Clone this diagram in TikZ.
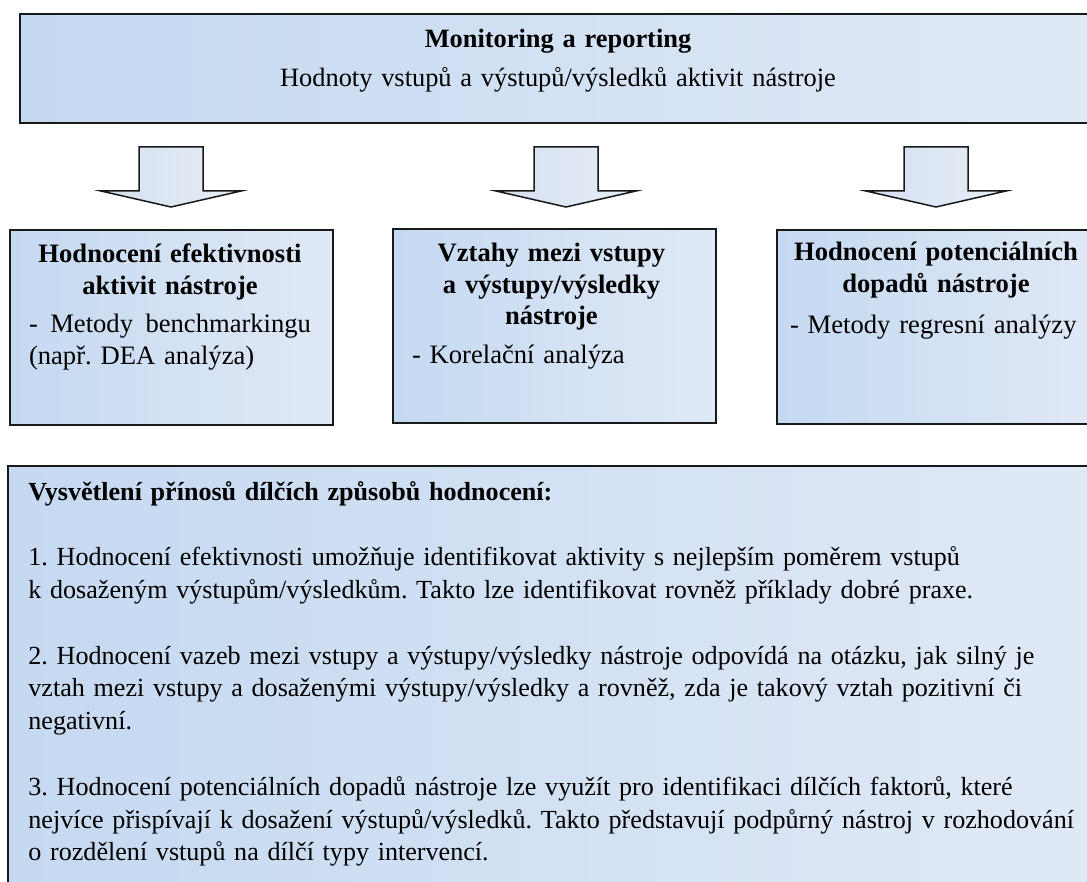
\documentclass[tikz,border=0pt]{standalone}
\usepackage{fontspec}
\setmainfont{Liberation Serif}
\frenchspacing
\usetikzlibrary{positioning}
\definecolor{boxleft}{RGB}{197,217,241}
\definecolor{boxright}{RGB}{224,233,246}
\definecolor{arrowleft}{RGB}{212,223,239}
\definecolor{arrowright}{RGB}{231,238,247}

\begin{document}
\begin{tikzpicture}[x=0.5pt, y=-0.5pt,
    panel/.style={draw=black!90, line width=1pt, left color=boxleft, right color=boxright,
        inner sep=0pt, anchor=north west},
    txt/.style={font=\fontsize{13.3}{15.75}\selectfont, inner sep=0pt, anchor=base},
    blockarrow/.pic={
        \draw[draw=black!90, line width=0.75pt, left color=arrowleft, right color=arrowright]
            (-32,0) -- (32,0) -- (32,44) -- (70,44) -- (0,60) -- (-70,44) -- (-32,44) -- cycle;
    }]
    \useasboundingbox (0,0) rectangle (1087,882);
    \clip (0,0) rectangle (1087,882);

    \node[panel, minimum width=540.5pt, minimum height=54.5pt] (top) at (19,13) {};
    \node[panel, minimum width=161.5pt, minimum height=97.5pt] (eff) at (9,229) {};
    \node[panel, minimum width=161.5pt, minimum height=97pt] (rel) at (392,228) {};
    \node[panel, minimum width=162pt, minimum height=97pt] (imp) at (776,229) {};
    \node[panel, minimum width=546.5pt, minimum height=217.5pt] (note) at (7,465) {};

    \pic at (171,147) {blockarrow};
    \pic at (566,147) {blockarrow};
    \pic at (936,147) {blockarrow};

    \node[txt, text width=530pt, align=center, font=\fontsize{13.2}{16}\selectfont] (top-text) at (558,48)
        {\textbf{Monitoring a reporting}\\[3.5pt] Hodnoty vstupů a výstupů/výsledků aktivit nástroje};

    \node[txt, text width=141pt] (eff-text) at (170,263)
        {{\centering\bfseries Hodnocení efektivnosti\\ aktivit nástroje\par}\vspace{3.5pt}
        -\hfill Metody\hfill benchmarkingu\\ (např. DEA analýza)};
    \node[txt, text width=139.5pt] (rel-text) at (551.5,262)
        {{\centering\bfseries Vztahy mezi vstupy\\ a výstupy/výsledky\\ nástroje\par}\vspace{3.5pt}
        - Korelační analýza};
    \node[txt, text width=146pt] (imp-text) at (936,261)
        {{\centering\bfseries Hodnocení potenciálních\\ dopadů nástroje\par}\vspace{5pt}
        - Metody regresní analýzy};

    \node[txt, anchor=base west, text width=560pt, align=left, font=\fontsize{13.05}{16.4}\selectfont] (note-text) at (28,500)
        {\textbf{Vysvětlení přínosů dílčích způsobů hodnocení:}\\[16.4pt]
        1. Hodnocení efektivnosti umožňuje identifikovat aktivity s nejlepším poměrem vstupů\\
        k dosaženým výstupům/výsledkům. Takto lze identifikovat rovněž příklady dobré praxe.\\[16.4pt]
        2. Hodnocení vazeb mezi vstupy a výstupy/výsledky nástroje odpovídá na otázku, jak silný je\\
        vztah mezi vstupy a dosaženými výstupy/výsledky a rovněž, zda je takový vztah pozitivní či\\
        negativní.\\[16.4pt]
        3. Hodnocení potenciálních dopadů nástroje lze využít pro identifikaci dílčích faktorů, které\\
        nejvíce přispívají k dosažení výstupů/výsledků. Takto představují podpůrný nástroj v rozhodování\\
        o rozdělení vstupů na dílčí typy intervencí.};
\end{tikzpicture}
\end{document}
